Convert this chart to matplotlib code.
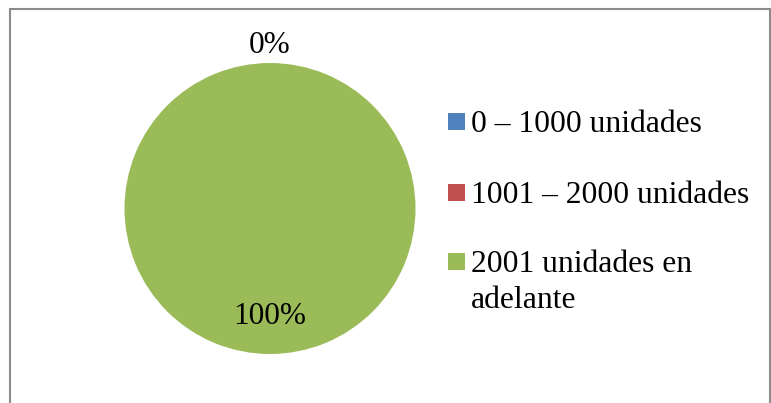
import matplotlib
matplotlib.use("Agg")
import matplotlib.pyplot as plt
from matplotlib.patches import Rectangle
import numpy as np

# data
categories = ["0 \u2013 1000 unidades", "1001 \u2013 2000 unidades", "2001 unidades en\nadelante"]
values = [0, 0, 100]
colors = ["#4F81BD", "#C0504D", "#9BBB59"]

plt.rcParams['font.family'] = ['Liberation Serif', 'DejaVu Serif']

W, H = 771, 403
fig = plt.figure(figsize=(W / 100, H / 100), dpi=100)

# chart frame (gray border, clipped by the image at right/bottom)
fig.add_artist(Rectangle((9.5 / W, -0.05), (769.5 - 9.5) / W, (H - 9.5) / H + 0.05,
                         transform=fig.transFigure, fill=False,
                         edgecolor="#8c8c8c", linewidth=1.5))

# pie axes: center (270, 208.5), radius 145.5 px
cx, cy, r = 270, 208.5, 145.5
ax = fig.add_axes([(cx - r) / W, (H - cy - r) / H, 2 * r / W, 2 * r / H])
wedges, texts, autotexts = ax.pie(values, colors=colors, startangle=90,
                                  counterclock=False, autopct='%1.0f%%',
                                  pctdistance=0.74,
                                  textprops={'fontsize': 22.5, 'color': 'black'})
ax.set_xlim(-1, 1)
ax.set_ylim(-1, 1)
ax.set_aspect('auto')

# zero slices: label outside, at the top (they overlap, draw one)
shown_zero = False
for w, t, v in zip(wedges, autotexts, values):
    if v == 0:
        if shown_zero:
            t.set_visible(False)
            continue
        ang = np.deg2rad((w.theta1 + w.theta2) / 2)
        t.set_position((1.12 * np.cos(ang), 1.12 * np.sin(ang)))
        shown_zero = True

# legend, laid out by hand (pixel positions from the top of the image)
box_x, box_size, text_x = 448, 17, 471
baselines = [132, 203, 272]
for w, label, base in zip(wedges, categories, baselines):
    fig.add_artist(Rectangle((box_x / W, (H - base + 2) / H), box_size / W, box_size / H,
                             transform=fig.transFigure, facecolor=w.get_facecolor(),
                             edgecolor='none'))
    for i, line in enumerate(label.split("\n")):
        fig.text(text_x / W, (H - base - 36 * i) / H, line, fontsize=22.8,
                 va='baseline', ha='left')

fig.savefig("out.png", dpi=100)
